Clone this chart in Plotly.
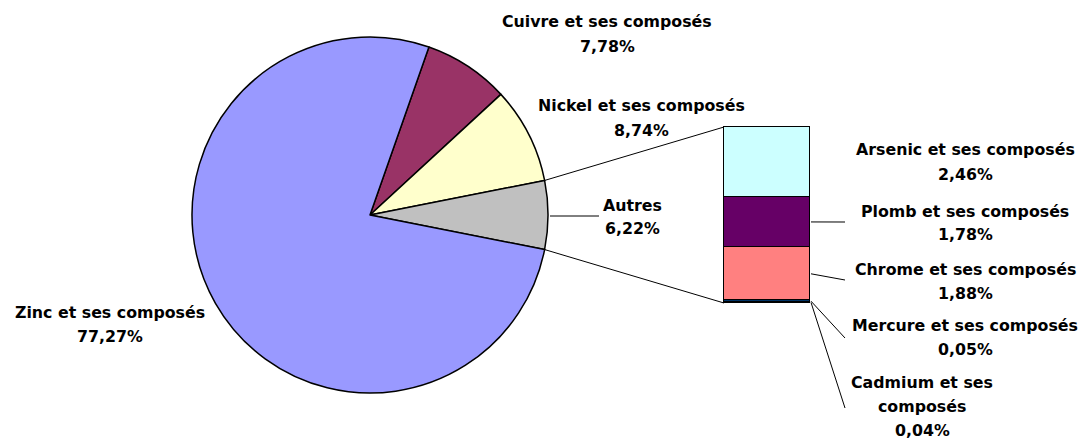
import math
import plotly.graph_objects as go

W, H = 1085, 441

# ---- data ----
pie_labels = ["Cuivre et ses composés", "Nickel et ses composés", "Autres", "Zinc et ses composés"]
pie_values = [7.78, 8.74, 6.22, 77.27]
pie_colors = ["#993366", "#FFFFCC", "#C0C0C0", "#9999FF"]
pie_text = ["7,78%", "8,74%", "6,22%", "77,27%"]

bar_labels = ["Cadmium et ses composés", "Mercure et ses composés", "Chrome et ses composés",
              "Plomb et ses composés", "Arsenic et ses composés"]
bar_values = [0.04, 0.05, 1.88, 1.78, 2.46]
bar_colors = ["#CCCCFF", "#003366", "#FF8080", "#660066", "#CCFFFF"]
bar_text = ["0,04%", "0,05%", "1,88%", "1,78%", "2,46%"]

# ---- layout geometry (pixels) ----
CX, CY, R = 370, 215, 178
BX0, BX1, BY0, BY1 = 724, 810, 127, 303
PAD = 2


def px(x):
    return x / W


def py(y):
    return 1 - y / H


FONT = dict(family="DejaVu Sans, sans-serif", size=15.8, color="black")

fig = go.Figure()

autres = pie_values[2]
rotation = 90 - (autres / 2 + pie_values[1] + pie_values[0]) * 3.6

fig.add_trace(go.Pie(
    labels=pie_labels, values=pie_values, sort=False, direction="clockwise",
    rotation=rotation, marker=dict(colors=pie_colors, line=dict(color="black", width=1.5)),
    textinfo="none", hoverinfo="label+percent", showlegend=False,
    domain=dict(x=[px(CX - R), px(CX + R)], y=[py(CY + R), py(CY - R)]),
))

total_bar = sum(bar_values)
for lab, v, c in zip(bar_labels, bar_values, bar_colors):
    fig.add_trace(go.Bar(
        x=[0], y=[v], name=lab, marker=dict(color=c, line=dict(color="black", width=1.3)),
        width=1, showlegend=False, hoverinfo="name+y",
    ))

kx = (BX1 - BX0)
ky = (BY1 - BY0) / total_bar
fig.update_layout(
    barmode="stack", bargap=0,
    width=W, height=H, margin=dict(l=0, r=0, t=0, b=0),
    paper_bgcolor="white", plot_bgcolor="rgba(0,0,0,0)",
    xaxis=dict(domain=[px(BX0 - PAD), px(BX1 + PAD)], range=[-0.5 - PAD / kx, 0.5 + PAD / kx],
               visible=False, fixedrange=True),
    yaxis=dict(domain=[py(BY1 + PAD), py(BY0 - PAD)], range=[-PAD / ky, total_bar + PAD / ky],
               visible=False, fixedrange=True),
)


def bar_y(val):
    return BY1 - (BY1 - BY0) * val / total_bar


# connector lines from pie "Autres" edges to bar
half = autres / 2 * 3.6 * math.pi / 180
ux, uy = CX + R * math.cos(half), CY - R * math.sin(half)
lx, ly = CX + R * math.cos(-half), CY - R * math.sin(-half)
line = dict(color="black", width=1)
fig.add_shape(type="line", xref="paper", yref="paper", x0=px(ux), y0=py(uy), x1=px(BX0), y1=py(BY0), line=line)
fig.add_shape(type="line", xref="paper", yref="paper", x0=px(lx), y0=py(ly), x1=px(BX0), y1=py(BY1), line=line)

# leader for Autres
fig.add_shape(type="line", xref="paper", yref="paper", x0=px(CX + R + 2), y0=py(CY + 1),
              x1=px(599), y1=py(CY + 1), line=line)

# leaders for bar segments
cum = 0
mids = []
for v in bar_values:
    mids.append(bar_y(cum + v / 2))
    cum += v
leader_ends = {1: (845, 338), 0: (845, 408), 2: (845, 280), 3: (845, 222)}
for i, (ex, ey) in leader_ends.items():
    fig.add_shape(type="line", xref="paper", yref="paper", x0=px(BX1 + 1), y0=py(mids[i]),
                  x1=px(ex), y1=py(ey), line=line)


def label(lines, x, y0, step=24):
    for k, t in enumerate(lines):
        fig.add_annotation(text="<b>%s</b>" % t, x=px(x), y=py(y0 + k * step), xref="paper", yref="paper",
                           showarrow=False, font=FONT, xanchor="center", yanchor="middle")


label([pie_labels[0], pie_text[0]], 607, 22)
label([pie_labels[1], pie_text[1]], 641, 106)
label([pie_labels[2], pie_text[2]], 632, 205)
label([pie_labels[3], pie_text[3]], 110, 312)
label([bar_labels[4], bar_text[4]], 965, 150)
label([bar_labels[3], bar_text[3]], 965, 211)
label([bar_labels[2], bar_text[2]], 965, 269)
label([bar_labels[1], bar_text[1]], 965, 325)
label(["Cadmium et ses", "composés", bar_text[0]], 922, 382)

fig.write_html("out.html", config={"displayModeBar": False},
               post_script="document.body.style.margin='0';")
